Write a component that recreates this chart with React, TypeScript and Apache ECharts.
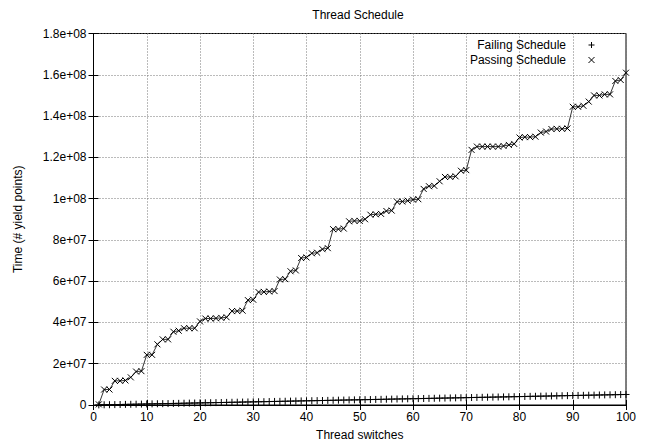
import React, { useEffect, useRef } from "react";
import * as echarts from "echarts";

const UNIT = 1e6;
const switches: number[] = Array.from({ length: 100 }, (_, i) => i + 1);

// values in millions of yield points
const passing: number[] = [
  0.3, 7.5, 7.5, 11.7, 11.7, 11.9, 13.4, 16.2, 16.4, 24.3,
  24.3, 29.4, 31.8, 31.8, 35.5, 36.0, 37.2, 37.2, 37.2, 40.5,
  41.9, 41.9, 42.0, 42.2, 42.5, 45.5, 45.5, 45.7, 50.8, 51.0,
  54.7, 54.8, 55.0, 55.2, 60.8, 61.0, 64.8, 65.2, 71.2, 71.5,
  73.5, 73.8, 75.5, 76.0, 85.2, 85.2, 85.5, 89.0, 89.2, 89.2,
  90.0, 92.2, 92.4, 92.6, 94.0, 94.2, 98.5, 98.6, 99.0, 99.5,
  99.7, 104.7, 106.0, 106.2, 108.4, 110.5, 110.5, 110.8, 113.5, 113.8,
  123.6, 125.2, 125.2, 125.2, 125.2, 125.2, 125.5, 126.0, 126.5, 129.6,
  129.8, 129.8, 130.0, 132.0, 132.5, 133.7, 133.8, 133.8, 134.0, 144.5,
  144.5, 145.0, 147.0, 150.0, 150.0, 150.5, 150.5, 157.0, 157.5, 161.0,
];

const failing: number[] = [
  0.05, 0.1, 0.14, 0.19, 0.24, 0.29, 0.34, 0.39, 0.44, 0.5,
  0.55, 0.6, 0.65, 0.7, 0.75, 0.8, 0.86, 0.91, 0.96, 1.01,
  1.06, 1.11, 1.16, 1.21, 1.26, 1.31, 1.36, 1.42, 1.47, 1.52,
  1.57, 1.62, 1.67, 1.72, 1.77, 1.82, 1.88, 1.93, 1.98, 2.03,
  2.08, 2.13, 2.18, 2.23, 2.28, 2.34, 2.39, 2.44, 2.49, 2.54,
  2.59, 2.64, 2.69, 2.74, 2.8, 2.85, 2.9, 2.95, 3.0, 3.05,
  3.1, 3.15, 3.2, 3.26, 3.31, 3.36, 3.41, 3.46, 3.51, 3.56,
  3.62, 3.67, 3.72, 3.77, 3.82, 3.87, 3.92, 3.97, 4.03, 4.08,
  4.13, 4.18, 4.23, 4.28, 4.33, 4.38, 4.44, 4.49, 4.54, 4.59,
  4.64, 4.69, 4.74, 4.79, 4.85, 4.9, 4.95, 5.0, 5.05, 5.1,
];

const seriesNames = ["Failing Schedule", "Passing Schedule"];
const X_MIN = 0, X_MAX = 100, X_STEP = 10;
const Y_MIN = 0, Y_MAX = 1.8e8, Y_STEP = 2e7;

const PLUS = "path://M5,0L5,10M0,5L10,5";
const CROSS = "path://M0,0L10,10M10,0L0,10";
const FONT = "'Liberation Sans', Arial, Helvetica, sans-serif";
const FS = 12;

function fmtExp(v: number): string {
  if (v === 0) return "0";
  const [m, e] = v.toExponential().split("e");
  const sign = e[0] === "-" ? "-" : "+";
  const digits = e.replace(/^[+-]/, "").padStart(2, "0");
  return `${m}e${sign}${digits}`;
}

export default function App() {
  const ref = useRef<HTMLDivElement>(null);
  useEffect(() => {
    if (!ref.current) return;
    const chart = echarts.init(ref.current, undefined, { renderer: "svg" });
    const tickCommon = { inside: true, length: 5, lineStyle: { color: "#000", width: 1 } };
    const splitCommon = { show: true, lineStyle: { color: "#777", type: [1, 2] as any, width: 1 } };
    const markerStyle = { color: "rgba(0,0,0,0)", borderColor: "#000", borderWidth: 1 };
    chart.setOption({
      animation: false,
      backgroundColor: "#fff",
      textStyle: { fontFamily: FONT, color: "#000" },
      title: {
        text: "Thread Schedule",
        left: 358,
        textAlign: "center",
        top: 8,
        padding: 0,
        textStyle: { fontFamily: FONT, fontSize: FS, fontWeight: "normal", color: "#000", lineHeight: 14 },
      },
      legend: {
        orient: "vertical",
        right: 54,
        top: 38,
        padding: 0,
        align: "right",
        itemWidth: 7,
        itemHeight: 6,
        itemGap: 1,
        textStyle: { fontFamily: FONT, fontSize: FS, color: "#000", padding: [0, 17, 0, 0], lineHeight: 14 },
        data: [
          { name: seriesNames[0], icon: PLUS, itemStyle: markerStyle },
          { name: seriesNames[1], icon: CROSS, itemStyle: markerStyle },
        ],
      },
      grid: {
        left: 93.5,
        right: 23,
        top: 33.5,
        bottom: 40.5,
        show: true,
        borderColor: "#000",
        borderWidth: 1,
        backgroundColor: "transparent",
      },
      xAxis: [
        {
          type: "value",
          min: X_MIN,
          max: X_MAX,
          interval: X_STEP,
          name: "Thread switches",
          nameLocation: "middle",
          nameGap: 24,
          nameTextStyle: { fontFamily: FONT, fontSize: FS, color: "#000" },
          axisLine: { show: true, lineStyle: { color: "#000", width: 1 } },
          axisTick: tickCommon,
          axisLabel: { fontFamily: FONT, fontSize: FS, color: "#000", margin: 6 },
          splitLine: splitCommon,
        },
        {
          type: "value",
          position: "top",
          min: X_MIN,
          max: X_MAX,
          interval: X_STEP,
          axisLine: { show: true, lineStyle: { color: "#000", width: 1 } },
          axisTick: tickCommon,
          axisLabel: { show: false },
          splitLine: { show: false },
        },
      ],
      yAxis: [
        {
          type: "value",
          min: Y_MIN,
          max: Y_MAX,
          interval: Y_STEP,
          name: "Time (# yield points)",
          nameLocation: "middle",
          nameGap: 70,
          nameRotate: 90,
          nameTextStyle: { fontFamily: FONT, fontSize: FS, color: "#000" },
          axisLine: { show: true, lineStyle: { color: "#000", width: 1 } },
          axisTick: tickCommon,
          axisLabel: { fontFamily: FONT, fontSize: FS, color: "#000", margin: 7, formatter: fmtExp },
          splitLine: splitCommon,
        },
        {
          type: "value",
          position: "right",
          min: Y_MIN,
          max: Y_MAX,
          interval: Y_STEP,
          axisLine: { show: true, lineStyle: { color: "#000", width: 1 } },
          axisTick: tickCommon,
          axisLabel: { show: false },
          splitLine: { show: false },
        },
      ],
      series: [
        {
          name: seriesNames[0],
          type: "line",
          data: switches.map((x, i) => [x, failing[i] * UNIT]),
          symbol: PLUS,
          symbolSize: 7,
          lineStyle: { color: "#000", width: 0.8 },
          itemStyle: markerStyle,
          emphasis: { disabled: true },
        },
        {
          name: seriesNames[1],
          type: "line",
          data: switches.map((x, i) => [x, passing[i] * UNIT]),
          symbol: CROSS,
          symbolSize: 6,
          lineStyle: { color: "#000", width: 0.8 },
          itemStyle: markerStyle,
          emphasis: { disabled: true },
        },
      ],
    });
    return () => chart.dispose();
  }, []);
  return (
    <div
      ref={ref}
      style={{ position: "absolute", left: 0, top: 0, width: 649, height: 446, background: "#fff" }}
    />
  );
}
